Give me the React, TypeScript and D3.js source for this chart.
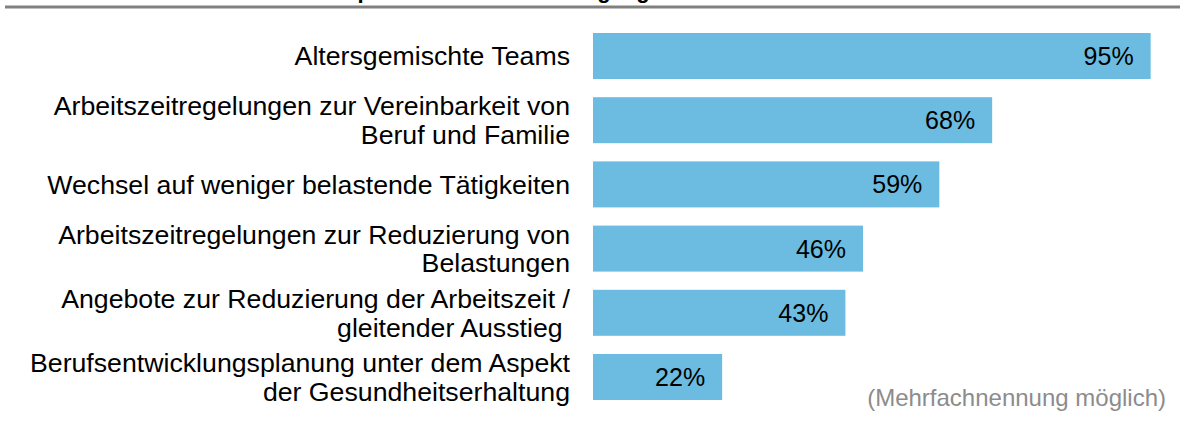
import React from 'react';
import * as d3 from 'd3';

// labels (line breaks as in the source slide)
const categories: string[][] = [
  ['Altersgemischte Teams'],
  ['Arbeitszeitregelungen zur Vereinbarkeit von', 'Beruf und Familie'],
  ['Wechsel auf weniger belastende Tätigkeiten'],
  ['Arbeitszeitregelungen zur Reduzierung von', 'Belastungen'],
  ['Angebote zur Reduzierung der Arbeitszeit /', 'gleitender Ausstieg\u00a0'],
  ['Berufsentwicklungsplanung unter dem Aspekt', 'der Gesundheitserhaltung'],
];
const values: number[] = [95, 68, 59, 46, 43, 22];
const title = 'Die Top 6 Maßnahmen im Umgang';
const note = '(Mehrfachnennung möglich)';

const W = 1182;
const H = 426;
const FONT = 'Liberation Sans, Arial, sans-serif';

export default function App() {
  const ids = categories.map((_, i) => String(i));

  const x = d3.scaleLinear().domain([0, 100]).range([593, 1180]);
  const y = d3.scaleBand<string>()
    .domain(ids)
    .range([33, 400])
    .paddingInner(0.2835)
    .paddingOuter(0);

  const lineH = 28.5;

  return (
    <svg
      width={W}
      height={H}
      style={{ position: 'absolute', left: 0, top: 0, background: '#fff' }}
      fontFamily={FONT}
    >
      {/* title sits above the frame, only its descenders show */}
      <text x={292} y={-2} fontSize={22} fontWeight="bold" fill="#000">
        {title}
      </text>
      <rect x={5} y={5.5} width={1175} height={3} fill="#808080" />

      {values.map((v, i) => {
        const id = ids[i];
        const y0 = y(id)!;
        const cy = y0 + y.bandwidth() / 2;
        const lines = categories[i];
        const firstBase = cy - ((lines.length - 1) * lineH) / 2 + 9.5;
        return (
          <g key={id}>
            <rect x={x(0)} y={y0} width={x(v) - x(0)} height={y.bandwidth()} fill="#6BBCE0" />
            <text x={x(v) - 17} y={cy + 9} textAnchor="end" fontSize={25} fill="#000">
              {`${v}%`}
            </text>
            <text textAnchor="end" fontSize={26.7} fill="#000">
              {lines.map((l, j) => (
                <tspan key={j} x={570} y={firstBase + j * lineH}>
                  {l}
                </tspan>
              ))}
            </text>
          </g>
        );
      })}

      <text x={1166} y={406} textAnchor="end" fontSize={24} fill="#8c8c8c">
        {note}
      </text>
    </svg>
  );
}
